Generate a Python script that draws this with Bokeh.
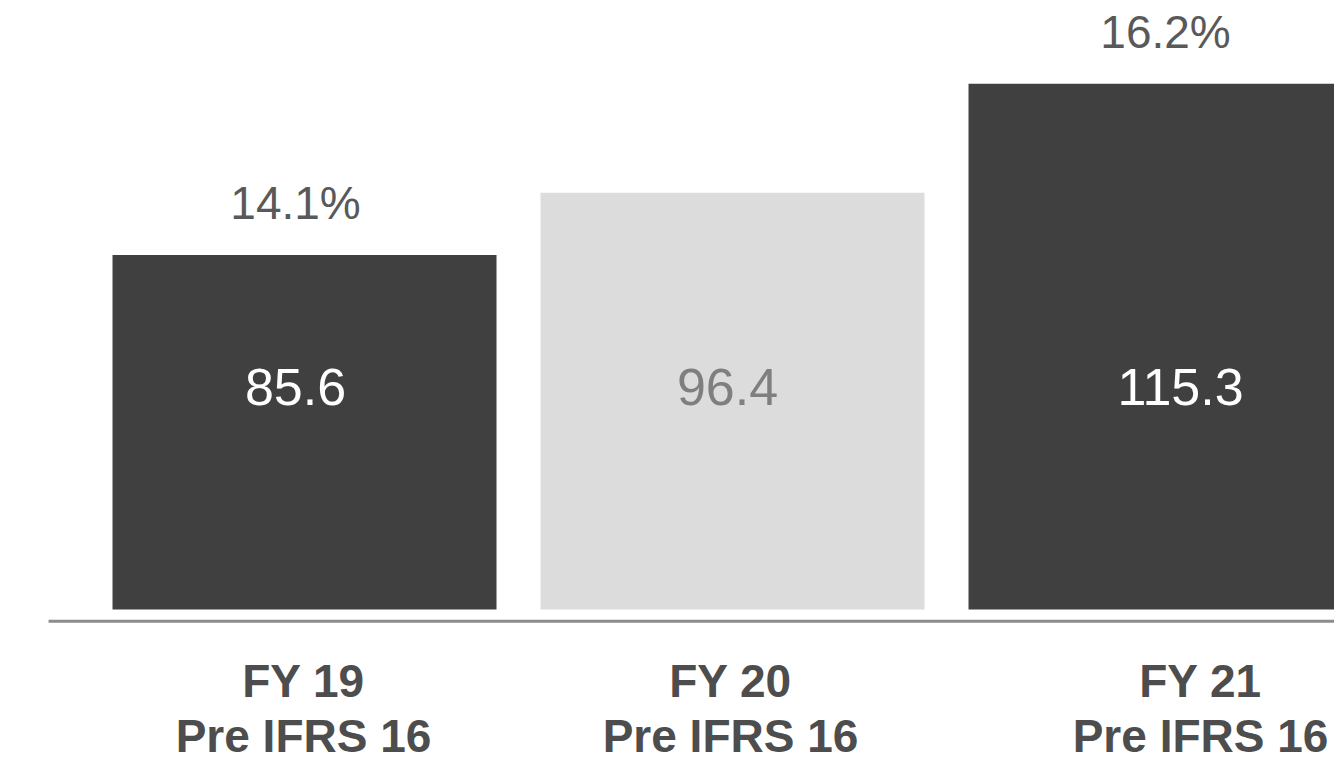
from bokeh.plotting import figure
from bokeh.models import ColumnDataSource, Range1d
from bokeh.core.properties import value
from bokeh.embed import file_html
from bokeh.resources import INLINE

# ---- data ----
years = ["FY 19", "FY 20", "FY 21"]
subtitles = ["Pre IFRS 16", "Pre IFRS 16", "Pre IFRS 16"]
ebitda = [85.6, 96.4, 115.3]
value_labels = ["85.6", "96.4", "115.3"]
margin_labels = ["14.1%", "", "16.2%"]

# ---- styling / layout ----
bar_colors = ["#404040", "#dcdcdc", "#404040"]
value_colors = ["#ffffff", "#7f7f7f", "#ffffff"]
BASE = 24.2          # value at which bars start (axis does not start at zero)
FONT = "Liberation Sans"
label_dx = [-9, -5, 20]      # horizontal nudges of labels (px)
margin_dx = [-9, 0, 5]
cat_dx = [-1, -2, 40]

idx = list(range(len(years)))
src = ColumnDataSource(dict(
    x=idx, top=ebitda, color=bar_colors, vcolor=value_colors,
    vlab=value_labels, mlab=margin_labels, year=years, sub=subtitles,
    base=[BASE] * len(years), ldx=label_dx, mdx=margin_dx, cdx=cat_dx,
))

p = figure(width=1334, height=763, output_backend="svg", toolbar_location=None,
           x_range=Range1d(-0.7103, 2.4065), y_range=Range1d(-2.49, 129.72),
           x_axis_type=None, y_axis_type=None, min_border=0,
           outline_line_color=None, background_fill_color="white",
           border_fill_color="white")
p.grid.visible = False

p.vbar(x="x", top="top", bottom="base", width=0.8972, fill_color="color",
       line_color=None, source=src)

# baseline rule
p.segment(x0=-0.598, y0=BASE - 2.04, x1=2.6, y1=BASE - 2.04,
          line_color="#8c8c8c", line_width=3)

# values inside bars
p.text(x="x", y="base", text="vlab", x_offset="ldx", y_offset=-222,
       text_align="center", text_baseline="alphabetic",
       text_font=value(FONT), text_font_size="52px", text_color="vcolor",
       source=src)

# margin labels above bars
p.text(x="x", y="top", text="mlab", x_offset="mdx", y_offset=-52,
       text_align="center", text_baseline="alphabetic",
       text_font=value(FONT), text_font_size="46px", text_color="#595959",
       source=src)

# category labels
p.text(x="x", y="base", text="year", x_offset="cdx", y_offset=72,
       text_align="center", text_baseline="alphabetic",
       text_font=value(FONT), text_font_size="46px", text_font_style="bold",
       text_color="#4d4d4d", source=src)
p.text(x="x", y="base", text="sub", x_offset="cdx", y_offset=127,
       text_align="center", text_baseline="alphabetic",
       text_font=value(FONT), text_font_size="46px", text_font_style="bold",
       text_color="#4d4d4d", source=src)

open("out.html", "w").write(file_html(p, INLINE))
